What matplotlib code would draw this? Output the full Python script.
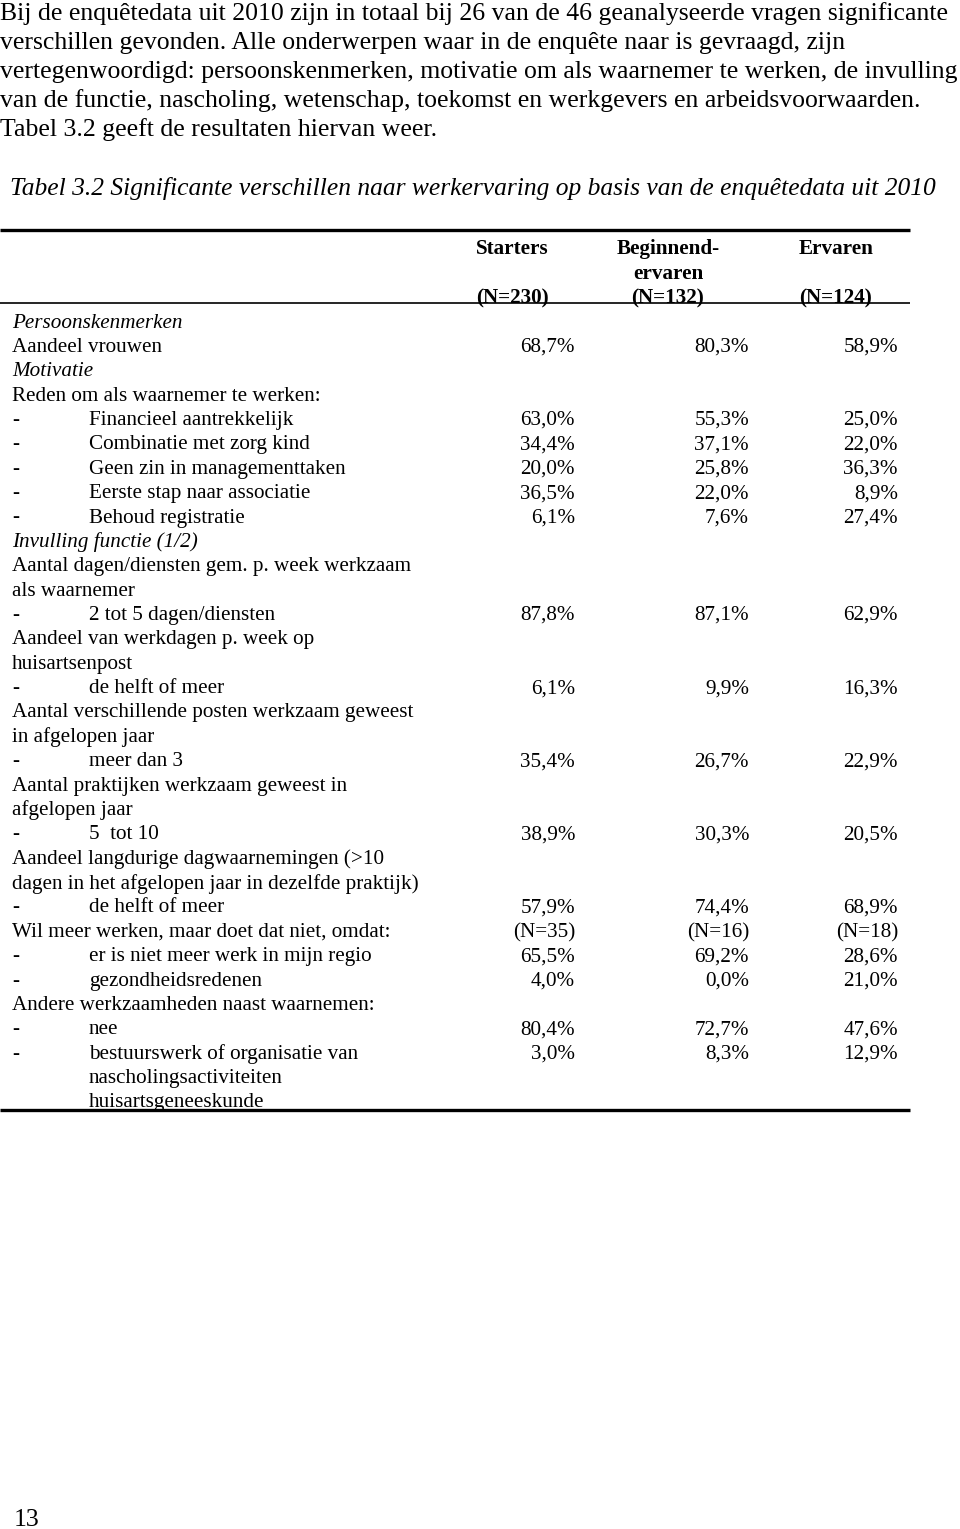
import matplotlib.pyplot as plt

# page text
intro_lines = [
    "Bij de enquêtedata uit 2010 zijn in totaal bij 26 van de 46 geanalyseerde vragen significante",
    "verschillen gevonden. Alle onderwerpen waar in de enquête naar is gevraagd, zijn",
    "vertegenwoordigd: persoonskenmerken, motivatie om als waarnemer te werken, de invulling",
    "van de functie, nascholing, wetenschap, toekomst en werkgevers en arbeidsvoorwaarden.",
    "Tabel 3.2 geeft de resultaten hiervan weer.",
]
caption = "Tabel 3.2 Significante verschillen naar werkervaring op basis van de enquêtedata uit 2010"
page_number = "13"

# table header
col_names = [["Starters", "", "(N=230)"],
             ["Beginnend-", "ervaren", "(N=132)"],
             ["Ervaren", "", "(N=124)"]]

# table body: label, style (i = italic heading, t = plain, d = dash item)
row_labels = [
    "Persoonskenmerken", "Aandeel vrouwen", "Motivatie",
    "Reden om als waarnemer te werken:",
    "Financieel aantrekkelijk", "Combinatie met zorg kind", "Geen zin in managementtaken",
    "Eerste stap naar associatie", "Behoud registratie",
    "Invulling functie (1/2)",
    "Aantal dagen/diensten gem. p. week werkzaam", "als waarnemer",
    "2 tot 5 dagen/diensten",
    "Aandeel van werkdagen p. week op", "huisartsenpost",
    "de helft of meer",
    "Aantal verschillende posten werkzaam geweest", "in afgelopen jaar",
    "meer dan 3",
    "Aantal praktijken werkzaam geweest in", "afgelopen jaar",
    "5  tot 10",
    "Aandeel langdurige dagwaarnemingen (>10",
    "dagen in het afgelopen jaar in dezelfde praktijk)",
    "de helft of meer",
    "Wil meer werken, maar doet dat niet, omdat:",
    "er is niet meer werk in mijn regio", "gezondheidsredenen",
    "Andere werkzaamheden naast waarnemen:",
    "nee", "bestuurswerk of organisatie van", "nascholingsactiviteiten",
    "huisartsgeneeskunde",
]
row_style = [
    "i", "t", "i", "t",
    "d", "d", "d", "d", "d",
    "i", "t", "t", "d",
    "t", "t", "d",
    "t", "t", "d",
    "t", "t", "d",
    "t", "t", "d",
    "t", "d", "d",
    "t", "d", "d", "c", "c",
]
starters = ["", "68,7%", "", "", "63,0%", "34,4%", "20,0%", "36,5%", "6,1%",
            "", "", "", "87,8%", "", "", "6,1%", "", "", "35,4%", "", "", "38,9%",
            "", "", "57,9%", "(N=35)", "65,5%", "4,0%", "", "80,4%", "3,0%", "", ""]
beginnend = ["", "80,3%", "", "", "55,3%", "37,1%", "25,8%", "22,0%", "7,6%",
             "", "", "", "87,1%", "", "", "9,9%", "", "", "26,7%", "", "", "30,3%",
             "", "", "74,4%", "(N=16)", "69,2%", "0,0%", "", "72,7%", "8,3%", "", ""]
ervaren = ["", "58,9%", "", "", "25,0%", "22,0%", "36,3%", "8,9%", "27,4%",
           "", "", "", "62,9%", "", "", "16,3%", "", "", "22,9%", "", "", "20,5%",
           "", "", "68,9%", "(N=18)", "28,6%", "21,0%", "", "47,6%", "12,9%", "", ""]

W, H = 960, 1529
fig = plt.figure(figsize=(W / 100, H / 100), dpi=100)
ax = fig.add_axes([0, 0, 1, 1])
ax.set_xlim(0, W)
ax.set_ylim(H, 0)
ax.axis("off")

serif = "Liberation Serif"

for i, line in enumerate(intro_lines):
    ax.text(0, 14 + i * 29, line, fontsize=18.5, family=serif, va="center", ha="left")
ax.text(10, 189, caption, fontsize=18.4, family=serif, style="italic", va="center", ha="left")

# rules of the table
ax.plot([0, 910], [230, 230], color="black", lw=2.4, solid_capstyle="butt")
ax.plot([0, 910], [303, 303], color="black", lw=1.2, solid_capstyle="butt")
ax.plot([0, 910], [1110, 1110], color="black", lw=2.4, solid_capstyle="butt")

fs = 15.2
dy = 3
col_centers = [512, 668, 836]
header_y = [246, 271, 295]
for cx, names in zip(col_centers, col_names):
    for y, name in zip(header_y, names):
        if name:
            ax.text(cx, y + dy, name, fontsize=fs, family=serif, weight="bold",
                    va="center", ha="center")

col_right = [575, 749, 898]
row_y0, row_step = 320, 24.375
for i, label in enumerate(row_labels):
    y = row_y0 + i * row_step + dy
    st = row_style[i]
    if st == "i":
        ax.text(12, y, label, fontsize=fs, family=serif, style="italic", va="center")
    elif st == "t":
        ax.text(12, y, label, fontsize=fs, family=serif, va="center")
    else:
        if st == "d":
            ax.text(12, y, "-", fontsize=fs, family=serif, va="center")
        ax.text(89, y, label, fontsize=fs, family=serif, va="center")
    for x, vals in zip(col_right, [starters, beginnend, ervaren]):
        if vals[i]:
            ax.text(x, y, vals[i], fontsize=fs, family=serif, va="center", ha="right")

ax.text(14, 1520, page_number, fontsize=18.5, family=serif, va="center")

fig.savefig("out.png", dpi=100)
